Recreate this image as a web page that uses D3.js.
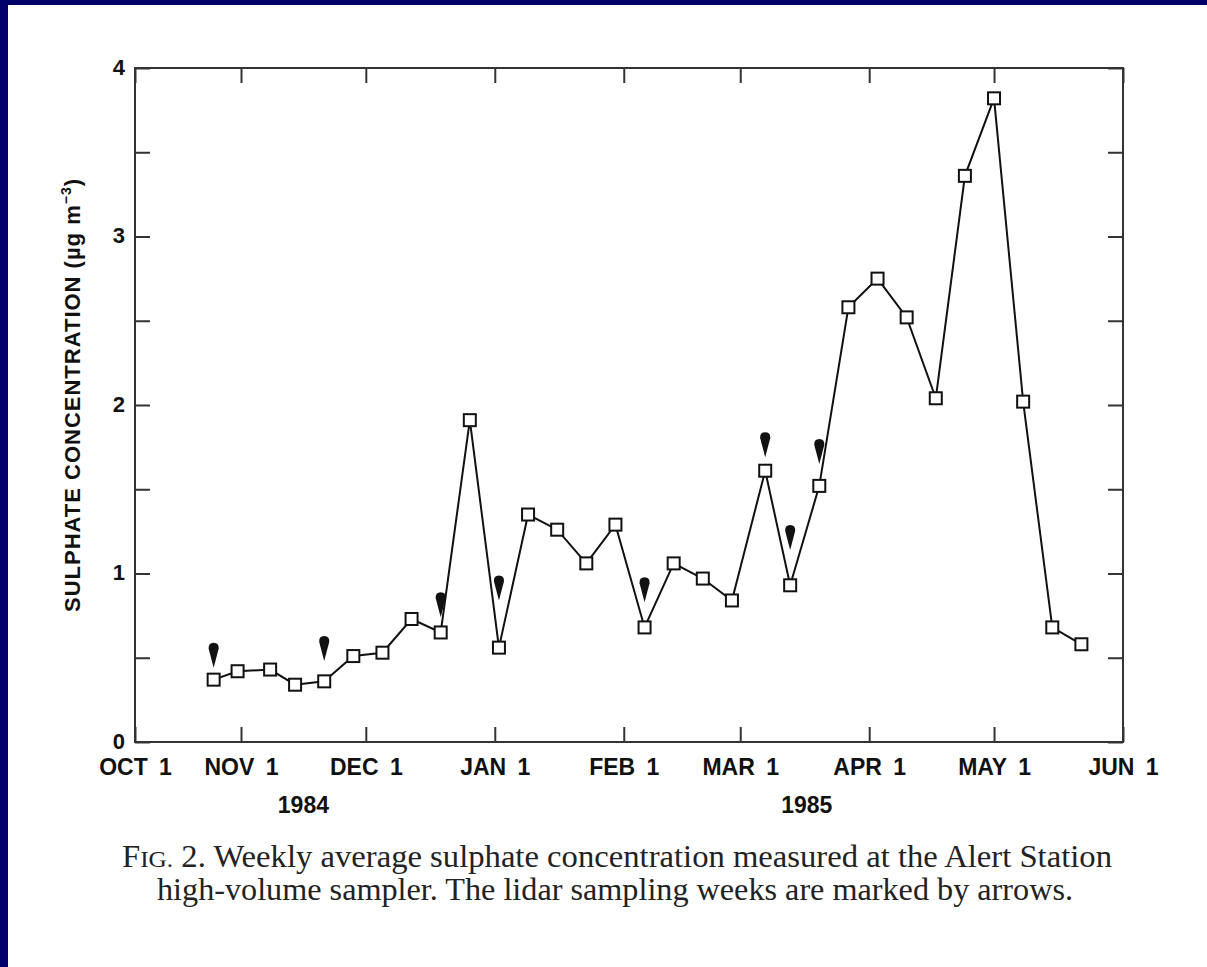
<!DOCTYPE html>
<html>
<head>
<meta charset="utf-8">
<script src="https://cdn.jsdelivr.net/npm/d3@7"></script>
<style>
  html, body { margin: 0; padding: 0; background: #fff; }
  svg { display: block; }
</style>
</head>
<body>
<svg id="chart" width="1207" height="967"></svg>
<script>
// weekly sampling dates and sulphate values (ug m-3)
const sampleDates = [
  "1984-10-24", "1984-10-31", "1984-11-08", "1984-11-14", "1984-11-21", "1984-11-28",
  "1984-12-05", "1984-12-12", "1984-12-19", "1984-12-26", "1985-01-02", "1985-01-09",
  "1985-01-16", "1985-01-23", "1985-01-30", "1985-02-06", "1985-02-13", "1985-02-20",
  "1985-02-27", "1985-03-07", "1985-03-13", "1985-03-20", "1985-03-27", "1985-04-03",
  "1985-04-10", "1985-04-17", "1985-04-24", "1985-05-01", "1985-05-08", "1985-05-15",
  "1985-05-22"
];
const sulphate = [
  0.37, 0.42, 0.43, 0.34, 0.36, 0.51,
  0.53, 0.73, 0.65, 1.91, 0.56, 1.35,
  1.26, 1.06, 1.29, 0.68, 1.06, 0.97,
  0.84, 1.61, 0.93, 1.52, 2.58, 2.75,
  2.52, 2.04, 3.36, 3.82, 2.02, 0.68,
  0.58
];

// lidar sampling weeks (arrows) and the level of each arrow tip
const lidarDates = ["1984-10-24", "1984-11-21", "1984-12-19", "1985-01-02",
                    "1985-02-06", "1985-03-07", "1985-03-13", "1985-03-20"];
const arrowTips = [0.44, 0.48, 0.74, 0.84, 0.83, 1.69, 1.14, 1.65];

const monthTicks = ["1984-10-01", "1984-11-01", "1984-12-01", "1985-01-01", "1985-02-01",
                    "1985-03-01", "1985-04-01", "1985-05-01", "1985-06-01"];
const monthLabels = ["OCT 1", "NOV 1", "DEC 1", "JAN 1", "FEB 1", "MAR 1", "APR 1", "MAY 1", "JUN 1"];
const yMajor = [0, 1, 2, 3, 4];
const yAllTicks = [0, 0.5, 1, 1.5, 2, 2.5, 3, 3.5, 4];
const yearLabels = ["1984", "1985"];
const yearAt = ["1984-11-16", "1985-03-17"];

const captionLines = [
  "Weekly average sulphate concentration measured at the Alert Station",
  "high-volume sampler. The lidar sampling weeks are marked by arrows."
];

const parse = d3.utcParse("%Y-%m-%d");
const svg = d3.select("#chart");

// page background + blue slide border
svg.append("rect").attr("width", 1207).attr("height", 967).attr("fill", "#fff");
svg.append("rect").attr("width", 8).attr("height", 967).attr("fill", "#000068");
svg.append("rect").attr("width", 1207).attr("height", 5).attr("fill", "#000068");

const plotLeft = 135, plotTop = 68, plotRight = 1123, plotBottom = 742;
const w = plotRight - plotLeft, h = plotBottom - plotTop;
const g = svg.append("g").attr("transform", `translate(${plotLeft},${plotTop})`);

// october is drawn narrower than the other months in the original
const x = d3.scaleUtc()
  .domain([parse("1984-10-01"), parse("1984-11-01"), parse("1985-06-01")])
  .range([0, 106, w]);
const y = d3.scaleLinear().domain([0, 4]).range([h, 0]);

const tickVals = monthTicks.map(parse);
const fontSans = "'Liberation Sans', Arial, sans-serif";

const xb = g.append("g").attr("transform", `translate(0,${h})`)
  .call(d3.axisBottom(x).tickValues(tickVals).tickSizeInner(-15).tickSizeOuter(0)
    .tickPadding(17).tickFormat((d, i) => monthLabels[i]));
const xt = g.append("g")
  .call(d3.axisTop(x).tickValues(tickVals).tickSizeInner(-15).tickSizeOuter(0).tickFormat(""));
const yl = g.append("g")
  .call(d3.axisLeft(y).tickValues(yAllTicks).tickSizeInner(-15).tickSizeOuter(0)
    .tickPadding(10).tickFormat(d => yMajor.includes(d) ? d3.format("d")(d) : ""));
const yr = g.append("g").attr("transform", `translate(${w},0)`)
  .call(d3.axisRight(y).tickValues(yAllTicks).tickSizeInner(-15).tickSizeOuter(0).tickFormat(""));

[xb, xt, yl, yr].forEach(a => {
  a.select(".domain").remove();
  a.selectAll(".tick line").attr("stroke", "#333").attr("stroke-width", 2);
  a.selectAll(".tick text").attr("fill", "#111")
    .style("font-family", fontSans).style("font-weight", "bold").style("font-size", "23px");
});
xb.selectAll(".tick text").style("word-spacing", "5px");
yl.selectAll(".tick text").style("font-size", "22px").attr("dy", "0.28em");

g.append("rect").attr("width", w).attr("height", h)
  .attr("fill", "none").attr("stroke", "#333").attr("stroke-width", 2);

// year labels
g.selectAll(".year").data(yearLabels).join("text")
  .attr("class", "year")
  .attr("x", (d, i) => x(parse(yearAt[i])))
  .attr("y", h + 71)
  .attr("text-anchor", "middle")
  .style("font-family", fontSans).style("font-weight", "bold").style("font-size", "23px")
  .attr("fill", "#111")
  .text(d => d);

// y axis title
const yt = svg.append("text")
  .attr("transform", `translate(80,${plotTop + h / 2 - 10}) rotate(-90)`)
  .attr("text-anchor", "middle")
  .style("font-family", fontSans).style("font-weight", "bold").style("font-size", "22px")
  .style("letter-spacing", "1px")
  .attr("fill", "#111");
yt.append("tspan").text("SULPHATE CONCENTRATION (\u00b5g m");
yt.append("tspan").attr("dy", -9).style("font-size", "14px").text("\u22123");
yt.append("tspan").attr("dy", 9).text(")");

// data
const pts = sampleDates.map((d, i) => ({ date: parse(d), v: sulphate[i] }));

g.append("path").datum(pts)
  .attr("fill", "none").attr("stroke", "#111").attr("stroke-width", 2)
  .attr("d", d3.line().x(d => x(d.date)).y(d => y(d.v)));

g.selectAll(".pt").data(pts).join("rect")
  .attr("class", "pt")
  .attr("x", d => x(d.date) - 6).attr("y", d => y(d.v) - 6)
  .attr("width", 12).attr("height", 12)
  .attr("fill", "#fff").attr("stroke", "#111").attr("stroke-width", 2);

// lidar arrows
const arrows = lidarDates.map((d, i) => ({ date: parse(d), v: arrowTips[i] }));
g.selectAll(".arrow").data(arrows).join("path")
  .attr("class", "arrow")
  .attr("transform", d => `translate(${x(d.date)},${y(d.v)})`)
  .attr("d", "M0,0 L-5,-19 Q-5.5,-25 0,-25 Q5.5,-25 5,-19 Z")
  .attr("fill", "#111");

// caption
const fontSerif = "'Liberation Serif', 'Times New Roman', serif";
const c1 = svg.append("text")
  .attr("x", 122).attr("y", 867)
  .attr("textLength", 990).attr("lengthAdjust", "spacingAndGlyphs")
  .style("font-family", fontSerif).style("font-size", "31px").attr("fill", "#222");
c1.append("tspan").text("F");
c1.append("tspan").style("font-size", "24px").text("IG.");
c1.append("tspan").text(" 2. " + captionLines[0]);

svg.append("text")
  .attr("x", 157).attr("y", 900)
  .attr("textLength", 916).attr("lengthAdjust", "spacingAndGlyphs")
  .style("font-family", fontSerif).style("font-size", "31px").attr("fill", "#222")
  .text(captionLines[1]);
</script>
</body>
</html>
